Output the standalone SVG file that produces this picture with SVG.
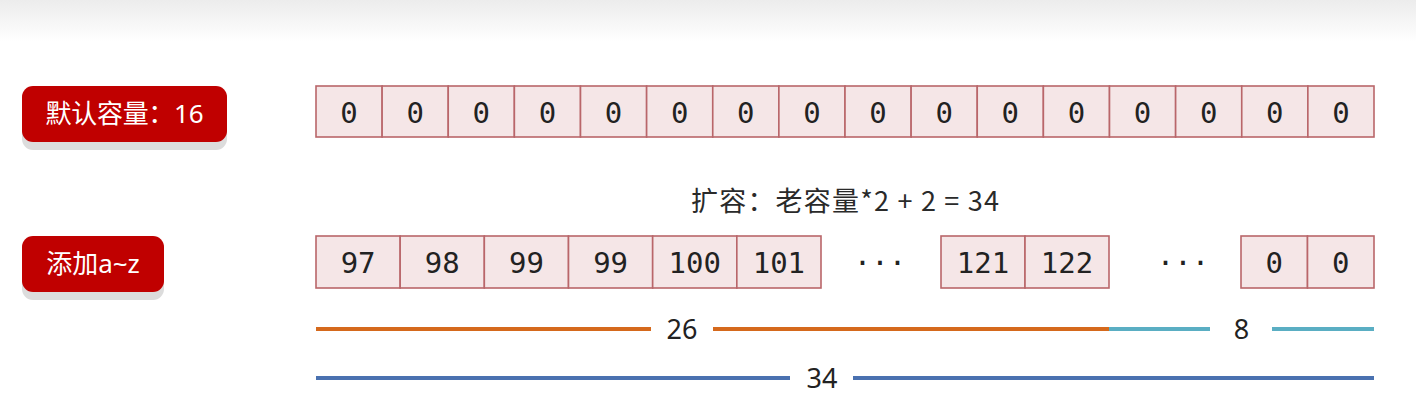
<svg xmlns="http://www.w3.org/2000/svg" width="1416" height="412" viewBox="0 0 1416 412">
<defs>
<linearGradient id="topg" x1="0" y1="0" x2="0" y2="1">
<stop offset="0" stop-color="#ececec"/>
<stop offset="1" stop-color="#ffffff"/>
</linearGradient>
</defs>
<style>
.cell{fill:#f5e6e7;stroke:#b9666a;stroke-width:1.6}
.num{font-family:"DejaVu Sans Mono","Liberation Mono",monospace;font-size:29px;fill:#222;text-anchor:middle}
.lbl{font-family:"Noto Sans","Noto Sans CJK SC",sans-serif;font-size:26px;fill:#ffffff;text-anchor:middle}
.btn{fill:#c00000}
.shadow{fill:#dcdcdc}
.head{font-family:"Noto Sans CJK SC","Noto Sans",sans-serif;font-size:27px;fill:#2a2a2a}
.cnt{font-family:"Noto Sans","Noto Sans CJK SC",sans-serif;font-size:27px;fill:#222;text-anchor:middle}
.ln{stroke-width:4;fill:none}
.or{stroke:#d5691c}
.te{stroke:#5aaec3}
.bl{stroke:#4a71b0}
</style>
<rect x="0" y="0" width="1416" height="42" fill="url(#topg)"/>

<g id="label-default">
<rect class="shadow" x="22" y="93" width="205" height="57" rx="11"/>
<rect class="btn" x="22" y="86" width="205" height="56" rx="11"/>
<text class="lbl" x="124.5" y="123" textLength="158" lengthAdjust="spacing">默认容量：16</text>
</g>

<g id="label-add">
<rect class="shadow" x="22" y="243" width="142" height="57" rx="11"/>
<rect class="btn" x="22" y="236" width="142" height="56" rx="11"/>
<text class="lbl" x="93" y="273">添加a~z</text>
</g>

<g id="array-default">
<rect class="cell" x="316" y="86" width="66.125" height="51"/>
<rect class="cell" x="382.125" y="86" width="66.125" height="51"/>
<rect class="cell" x="448.25" y="86" width="66.125" height="51"/>
<rect class="cell" x="514.375" y="86" width="66.125" height="51"/>
<rect class="cell" x="580.5" y="86" width="66.125" height="51"/>
<rect class="cell" x="646.625" y="86" width="66.125" height="51"/>
<rect class="cell" x="712.75" y="86" width="66.125" height="51"/>
<rect class="cell" x="778.875" y="86" width="66.125" height="51"/>
<rect class="cell" x="845" y="86" width="66.125" height="51"/>
<rect class="cell" x="911.125" y="86" width="66.125" height="51"/>
<rect class="cell" x="977.25" y="86" width="66.125" height="51"/>
<rect class="cell" x="1043.375" y="86" width="66.125" height="51"/>
<rect class="cell" x="1109.5" y="86" width="66.125" height="51"/>
<rect class="cell" x="1175.625" y="86" width="66.125" height="51"/>
<rect class="cell" x="1241.75" y="86" width="66.125" height="51"/>
<rect class="cell" x="1307.875" y="86" width="66.125" height="51"/>
<text class="num" x="349" y="122.5">0</text>
<text class="num" x="415.2" y="122.5">0</text>
<text class="num" x="481.3" y="122.5">0</text>
<text class="num" x="547.4" y="122.5">0</text>
<text class="num" x="613.6" y="122.5">0</text>
<text class="num" x="679.7" y="122.5">0</text>
<text class="num" x="745.8" y="122.5">0</text>
<text class="num" x="811.9" y="122.5">0</text>
<text class="num" x="878.1" y="122.5">0</text>
<text class="num" x="944.2" y="122.5">0</text>
<text class="num" x="1010.3" y="122.5">0</text>
<text class="num" x="1076.4" y="122.5">0</text>
<text class="num" x="1142.6" y="122.5">0</text>
<text class="num" x="1208.7" y="122.5">0</text>
<text class="num" x="1274.8" y="122.5">0</text>
<text class="num" x="1340.9" y="122.5">0</text>
</g>

<text id="heading" class="head" x="691" y="211" textLength="308" lengthAdjust="spacing">扩容：老容量*2 + 2 = 34</text>

<g id="array-grown">
<rect class="cell" x="316" y="236" width="84.17" height="52"/>
<rect class="cell" x="400.17" y="236" width="84.17" height="52"/>
<rect class="cell" x="484.33" y="236" width="84.17" height="52"/>
<rect class="cell" x="568.5" y="236" width="84.17" height="52"/>
<rect class="cell" x="652.67" y="236" width="84.17" height="52"/>
<rect class="cell" x="736.83" y="236" width="84.17" height="52"/>
<rect class="cell" x="941" y="236" width="84" height="52"/>
<rect class="cell" x="1025" y="236" width="84" height="52"/>
<rect class="cell" x="1241" y="236" width="66.5" height="52"/>
<rect class="cell" x="1307.5" y="236" width="66.5" height="52"/>
<text class="num" x="358.1" y="273">97</text>
<text class="num" x="442.3" y="273">98</text>
<text class="num" x="526.4" y="273">99</text>
<text class="num" x="610.6" y="273">99</text>
<text class="num" x="694.8" y="273">100</text>
<text class="num" x="778.9" y="273">101</text>
<text class="num" x="880" y="273">···</text>
<text class="num" x="983" y="273">121</text>
<text class="num" x="1067" y="273">122</text>
<text class="num" x="1183" y="273">···</text>
<text class="num" x="1274.3" y="273">0</text>
<text class="num" x="1340.8" y="273">0</text>
</g>

<g id="connectors">
<line class="ln or" x1="316" y1="329" x2="651" y2="329"/>
<line class="ln or" x1="713" y1="329" x2="1109" y2="329"/>
<line class="ln te" x1="1109" y1="329" x2="1210" y2="329"/>
<line class="ln te" x1="1272" y1="329" x2="1374" y2="329"/>
<line class="ln bl" x1="316" y1="378" x2="790" y2="378"/>
<line class="ln bl" x1="853" y1="378" x2="1374" y2="378"/>
<text class="cnt" x="682" y="338.5">26</text>
<text class="cnt" x="1241.5" y="338.5">8</text>
<text class="cnt" x="822" y="387.5">34</text>
</g>
</svg>
